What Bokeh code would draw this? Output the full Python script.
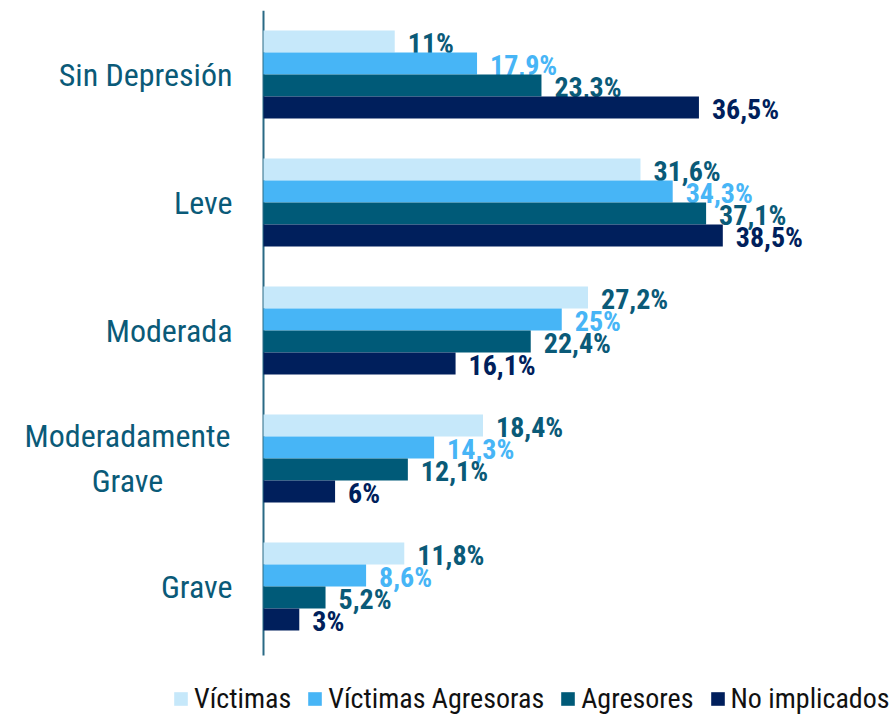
from bokeh.plotting import figure
from bokeh.models import ColumnDataSource, Range1d, Legend, LegendItem
from bokeh.transform import dodge
from bokeh.core.properties import value
from bokeh.embed import file_html
from bokeh.resources import INLINE

categories = ["Sin Depresión", "Leve", "Moderada", "Moderadamente\nGrave", "Grave"]
series = ["Víctimas", "Víctimas Agresoras", "Agresores", "No implicados"]
victimas = [11, 31.6, 27.2, 18.4, 11.8]
victimas_agresoras = [17.9, 34.3, 25, 14.3, 8.6]
agresores = [23.3, 37.1, 22.4, 12.1, 5.2]
no_implicados = [36.5, 38.5, 16.1, 6, 3]

bar_colors = ["#c6e8fa", "#47b5f6", "#005a78", "#001f5c"]
label_colors = ["#0a5a78", "#47b5f6", "#0a5a78", "#001f5c"]
offsets = [0.258, 0.086, -0.086, -0.258]

FONT = "'Roboto Condensed', 'Liberation Sans Narrow', 'DejaVu Sans Condensed', 'Roboto', sans-serif"
AXIS_COLOR = "#0a5a78"
PX_PER_X = 11.93
PX_PER_CAT = 128

# category positions: first category on top
cat_pos = [-k for k in range(len(categories))]

p = figure(width=894, height=715, output_backend="svg", toolbar_location=None,
           x_range=Range1d(-263 / PX_PER_X, (894 - 263) / PX_PER_X),
           y_range=Range1d(0.5 - 705 / PX_PER_CAT, 0.5),
           frame_width=894, frame_height=705,
           min_border_left=0, min_border_right=0, min_border_top=10, min_border_bottom=0)

# vertical baseline (category axis line)
p.segment(x0=[0], x1=[0], y0=[cat_pos[0] + 0.5], y1=[cat_pos[-1] - 0.54],
          line_color="#2a6a85", line_width=2)

values = [victimas, victimas_agresoras, agresores, no_implicados]
items = []
for i, (name, vals) in enumerate(zip(series, values)):
    src = ColumnDataSource(dict(pos=cat_pos, v=vals,
                                lab=[f"{v:g}".replace(".", ",") + "%" for v in vals]))
    r = p.hbar(y=dodge("pos", offsets[i]), right="v", left=0, height=0.172,
               source=src, fill_color=bar_colors[i], line_color=None)
    p.text(x="v", y=dodge("pos", offsets[i]), text="lab", source=src,
           x_offset=13, y_offset=2, text_baseline="middle", text_align="left",
           text_font=value(FONT), text_font_style="bold", text_font_size="28px",
           text_color=label_colors[i])
    items.append(LegendItem(label=name, renderers=[r]))

# category labels
single = [(c, y) for c, y in zip(categories, cat_pos) if "\n" not in c]
multi = [(c, y) for c, y in zip(categories, cat_pos) if "\n" in c]
p.text(x=[0] * len(single), y=[y for _, y in single], text=[c for c, _ in single],
       x_offset=-31, text_align="right", text_baseline="middle",
       text_font=value(FONT), text_font_size="32px", text_color=AXIS_COLOR)
p.text(x=[0] * len(multi), y=[y for _, y in multi], text=[c for c, _ in multi],
       x_offset=-136, text_align="center", text_baseline="middle",
       text_font=value(FONT), text_font_size="32px", text_color=AXIS_COLOR,
       text_line_height=1.2)

legend = Legend(items=items, orientation="horizontal", location=(172, 0),
                padding=0, margin=0, spacing=15, label_standoff=5,
                glyph_width=17, glyph_height=17,
                label_text_font=FONT, label_text_font_size="28px", label_text_color="#111111",
                border_line_color=None, background_fill_alpha=0)
p.add_layout(legend, "center")

p.xaxis.visible = False
p.yaxis.visible = False
p.xgrid.visible = False
p.ygrid.visible = False
p.outline_line_color = None

open("out.html", "w").write(file_html(p, INLINE))
